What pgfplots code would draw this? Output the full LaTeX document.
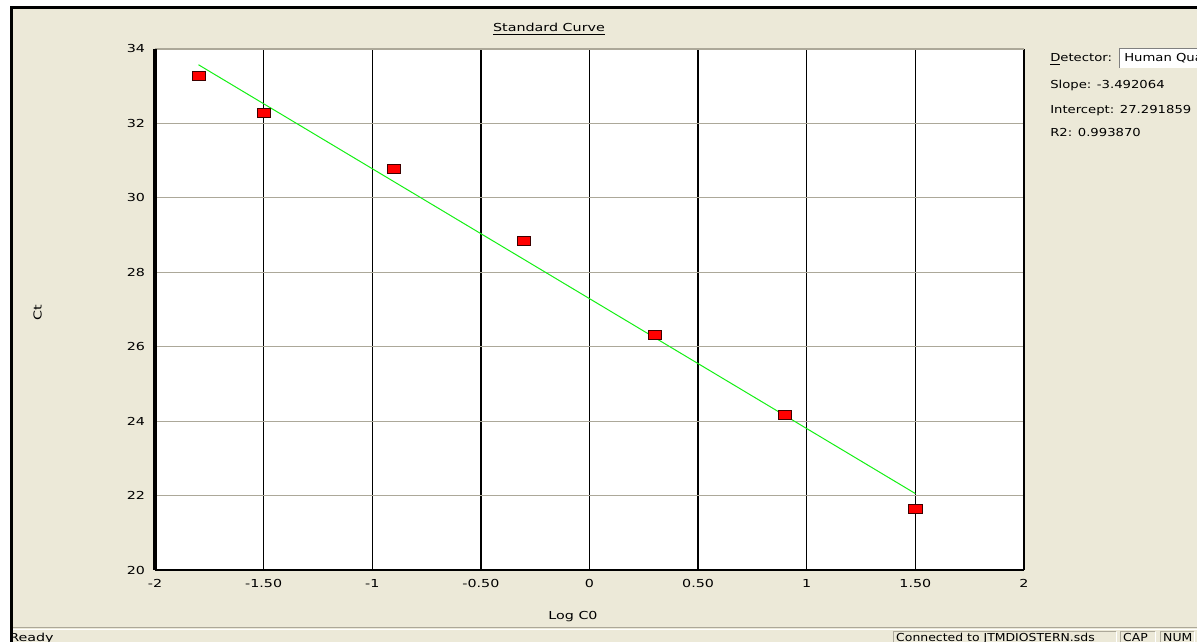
\documentclass[border=0pt]{standalone}
\usepackage{fontspec}
\setmainfont{DejaVu Sans}[FakeStretch=1.3]
\newfontfamily\panelfont{DejaVu Sans}[FakeStretch=1.2]
\usepackage{pgfplots}
\pgfplotsset{compat=1.18}
\definecolor{xpbg}{RGB}{236,233,216}
\definecolor{gridgray}{RGB}{172,168,153}
\definecolor{fitgreen}{RGB}{20,240,20}
\definecolor{markedge}{RGB}{60,0,0}
\pgfdeclareplotmark{rect}{%
  \pgfpathrectangle{\pgfpoint{-4.9pt}{-3.4pt}}{\pgfpoint{9.8pt}{6.8pt}}%
  \pgfusepathqfillstroke}
\begin{document}
\fontsize{8.25}{9.9}\selectfont
\begin{tikzpicture}[x=0.75pt,y=0.75pt,font=\fontsize{8.25}{9.9}\selectfont]
\useasboundingbox (0,0) rectangle (1197,642);
\fill[white] (0,0) rectangle (1197,642);
\fill[xpbg] (12,0) rectangle (1197,634);

\begin{axis}[
  at={(116.25pt,54pt)}, anchor=south west,
  width=651.75pt, height=390.75pt, scale only axis,
  xmin=-2, xmax=2, ymin=20, ymax=34,
  axis background/.style={fill=white},
  axis line style={draw=none},
  xtick={-2,-1.5,-1,-0.5,0,0.5,1,1.5,2},
  xticklabels={-2,-1.50,-1,-0.50,0,0.50,1,1.50,2},
  ytick={20,22,24,26,28,30,32,34},
  yticklabels={20,22,24,26,28,30,32,34},
  major tick length=0pt,
  xmajorgrids, ymajorgrids,
  x grid style={black, line width=1.0pt},
  y grid style={gridgray, line width=0.8pt},
  xticklabel style={anchor=center, yshift=-9.75pt, font=\fontsize{8.25}{9.9}\selectfont},
  yticklabel style={anchor=east, xshift=-4.5pt, font=\fontsize{8.25}{9.9}\selectfont},
  clip=false,
]
\addplot[only marks, mark=rect, mark options={fill=red, draw=markedge, line width=0.6pt}]
  coordinates {(-1.80,33.27) (-1.50,32.29) (-0.90,30.77) (-0.30,28.84) (0.30,26.32) (0.90,24.18) (1.50,21.64)};
\addplot[fitgreen, line width=0.75pt] coordinates {(-1.8,33.577) (1.5,22.054)};
\draw[black, line width=1.1pt] (rel axis cs:1,0) -- (rel axis cs:1,1);
\draw[gridgray, line width=0.8pt] (rel axis cs:0,1) -- (rel axis cs:1,1);
\draw[black, line width=1.5pt] (rel axis cs:0,0) -- (rel axis cs:1,0);
\draw[black, line width=2.4pt] (rel axis cs:0,0) -- (rel axis cs:0,1);
\end{axis}

% titles and labels
\node at (549,613) {\underline{Standard Curve}};
\node[rotate=90] at (37.5,329) {Ct};
\node at (573,25) {Log C0};

% right panel
\begin{scope}[font=\fontsize{8.25}{9.9}\panelfont]
\node[anchor=base west, inner sep=0pt] at (1050,580) {\underline{D}etector:};
\fill[white] (1119,574) rectangle (1197,594);
\draw[gray, line width=0.75pt] (1119.5,574) -- (1119.5,593.5) -- (1197,593.5);
\begin{scope}
\clip (1120,574) rectangle (1197,593);
\node[anchor=base west, inner sep=0pt] at (1124,580) {Human Qua};
\end{scope}
\node[anchor=base west, inner sep=0pt] at (1050,553) {Slope: -3.492064};
\node[anchor=base west, inner sep=0pt] at (1050,528) {Intercept: 27.291859};
\node[anchor=base west, inner sep=0pt] at (1050,505) {R2: 0.993870};
\end{scope}

% status bar
\draw[gridgray, line width=0.75pt] (12,14) -- (1197,14);
\draw[white, line width=0.75pt] (12,12.5) -- (1197,12.5);
\node[anchor=base west, inner sep=0pt] at (9,0.5) {Ready};
\foreach \a/\b in {893/1116, 1120/1155, 1160/1194}{
  \draw[gridgray, line width=0.75pt] (\a,0) -- (\a,10) -- (\b,10);
  \draw[white, line width=0.75pt] (\b,10) -- (\b,0);
}
\node[anchor=base west, inner sep=0pt, xscale=0.87] at (896,0.5) {Connected to JTMDIOSTERN.sds};
\node[anchor=base west, inner sep=0pt, xscale=0.87] at (1123,0.5) {CAP};
\node[anchor=base west, inner sep=0pt, xscale=0.87] at (1163,0.5) {NUM};

% document frame
\fill[black] (10,0) rectangle (13,635);
\fill[black] (10,632.5) rectangle (1197,635.5);
\end{tikzpicture}
\end{document}
